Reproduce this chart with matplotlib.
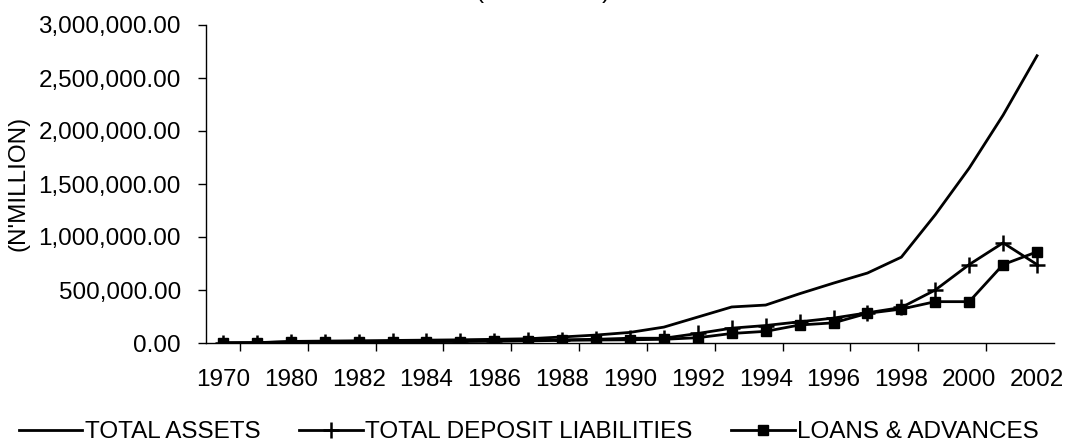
import matplotlib
matplotlib.use("Agg")
import matplotlib.pyplot as plt
from matplotlib.ticker import FuncFormatter, FixedLocator

plt.rcParams['font.family'] = ['Liberation Sans', 'DejaVu Sans']

years = ['1970', '1975', '1980', '1981', '1982', '1983', '1984', '1985', '1986',
         '1987', '1988', '1989', '1990', '1991', '1992', '1993', '1994', '1995',
         '1996', '1997', '1998', '1999', '2000', '2001', '2002']

total_assets = [1000, 3000, 15000, 18000, 21000, 24000, 27000, 30000, 35000,
                40000, 57000, 75000, 100000, 150000, 245000, 340000, 358000, 465000,
                565000, 660000, 810000, 1210000, 1650000, 2150000, 2710000]

total_deposits = [500, 2500, 11000, 12000, 14000, 16000, 18000, 20000, 22000,
                  25000, 30000, 35000, 45000, 45000, 90000, 140000, 165000, 200000,
                  235000, 285000, 335000, 500000, 740000, 945000, 740000]

loans_advances = [400, 1500, 7000, 9000, 11000, 12000, 13000, 14000, 16000,
                  20000, 25000, 28000, 30000, 35000, 50000, 90000, 110000, 170000,
                  190000, 280000, 320000, 390000, 390000, 740000, 860000]

y_label = "(N'MILLION)"
title_text = "(N'MILLION)"
legend_labels = ['TOTAL ASSETS', 'TOTAL DEPOSIT LIABILITIES', 'LOANS & ADVANCES']

fig = plt.figure(figsize=(10.7, 4.46), dpi=100)
ax = fig.add_axes([206/1070, 1 - 343/446, (1054 - 206)/1070, (343 - 25)/446])

x = list(range(len(years)))
ax.plot(x, total_assets, color='black', lw=2.0, label=legend_labels[0])
ax.plot(x, total_deposits, color='black', lw=2.0, marker='+', ms=12, mew=1.8,
        label=legend_labels[1])
ax.plot(x, loans_advances, color='black', lw=2.0, marker='s', ms=7,
        label=legend_labels[2])

ax.set_xlim(-0.5, len(years) - 0.5)
ax.set_ylim(0, 3000000)
ax.set_yticks([0, 500000, 1000000, 1500000, 2000000, 2500000, 3000000])
ax.yaxis.set_major_formatter(FuncFormatter(lambda v, p: f"{v:,.2f}"))

label_idx = list(range(0, len(years), 2))
ax.set_xticks(label_idx)
ax.set_xticklabels([years[i] for i in label_idx])
ax.xaxis.set_minor_locator(FixedLocator([i + 0.5 for i in range(0, len(years) - 1, 2)]))
ax.tick_params(axis='x', which='major', length=0, pad=19, labelsize=17.5)
ax.tick_params(axis='x', which='minor', length=6, width=1, direction='out')
ax.tick_params(axis='y', which='major', length=6, width=1, pad=12, labelsize=17.5)

for s in ['top', 'right']:
    ax.spines[s].set_visible(False)
for s in ['left', 'bottom']:
    ax.spines[s].set_linewidth(1.0)

fig.text(19/1070, 1 - 183/446, y_label, rotation=90, ha='center', va='center',
         fontsize=17.5)
fig.text(543/1070, 1 + 2/446, title_text, ha='center', va='baseline', fontsize=17.5)

leg = fig.legend(loc='center', bbox_to_anchor=(529/1070, 1 - 432/446), ncol=3,
                 frameon=False, fontsize=17.5, handlelength=2.6, handletextpad=0.1,
                 columnspacing=1.6, borderaxespad=0)

fig.savefig('out.png', dpi=100)
